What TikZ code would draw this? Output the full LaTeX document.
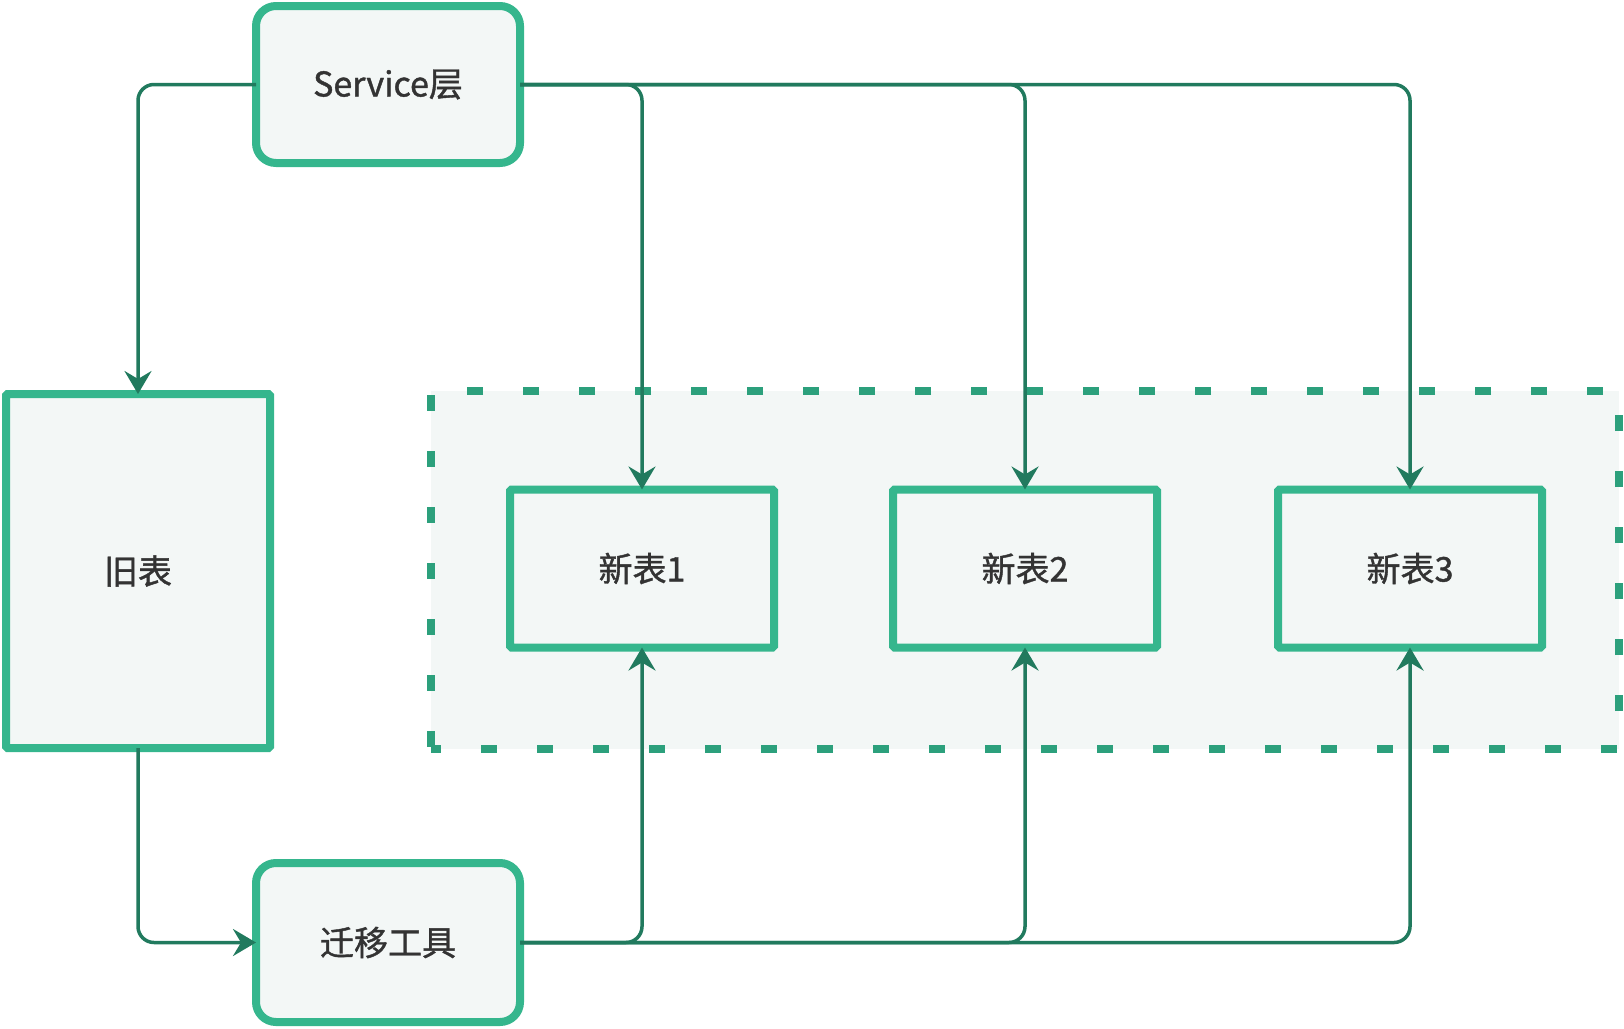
\documentclass[tikz,border=0pt]{standalone}
\usepackage{fontspec}
\newfontfamily\cjk[FakeBold=1.2]{Noto Sans CJK SC}
\usetikzlibrary{arrows.meta}
\definecolor{boxgreen}{RGB}{53,182,141}
\definecolor{boxfill}{RGB}{243,247,246}
\definecolor{linegreen}{RGB}{33,122,94}
\definecolor{dashgreen}{RGB}{44,160,124}
\definecolor{txt}{RGB}{51,51,51}

\begin{document}
\begin{tikzpicture}[x=1pt, y=-1pt,
    every node/.style={font=\cjk\fontsize{34}{40}\selectfont, text=txt},
    tbl/.style={draw=boxgreen, fill=boxfill, line width=8pt, outer sep=0pt, rounded corners=1.5pt, minimum width=264pt, minimum height=158pt},
    soft/.style={tbl, rounded corners=20pt},
    conn/.style={draw=linegreen, line width=3.5pt, -{Stealth[length=23pt, width=27pt, inset=8pt]}}]
                \useasboundingbox (0,0) rectangle (1624,1028);

                % area of the new tables
                \node (grp) [draw=dashgreen, fill=boxfill, line width=8pt, dash pattern=on 16pt off 40pt, dash phase=6pt, minimum width=1188pt, minimum height=358pt] at (1025,570) {};

                \node (svc) [soft, minimum height=157pt] at (388,84.5) {Service层};
                \node (old) [tbl, minimum height=354pt] at (138,571) {旧表};
                \node (tool) [soft, minimum height=159pt] at (388,942.5) {迁移工具};
                \node (new1) [tbl] at (642,568.5) {新表1};
                \node (new2) [tbl] at (1025,568.5) {新表2};
                \node (new3) [tbl] at (1410,568.5) {新表3};

                % corners rounded, tips kept sharp
                \draw[conn] (svc.west) [rounded corners=16pt] -| (old.north) [sharp corners];
                \draw[conn] (old.south) [rounded corners=16pt] |- (tool.west) [sharp corners];
                \foreach \n in {new1,new2,new3} {
                    \draw[conn] (svc.east) [rounded corners=16pt] -| (\n.north) [sharp corners];
                    \draw[conn] (tool.east) [rounded corners=16pt] -| (\n.south) [sharp corners];
                }
            \end{tikzpicture}
\end{document}
